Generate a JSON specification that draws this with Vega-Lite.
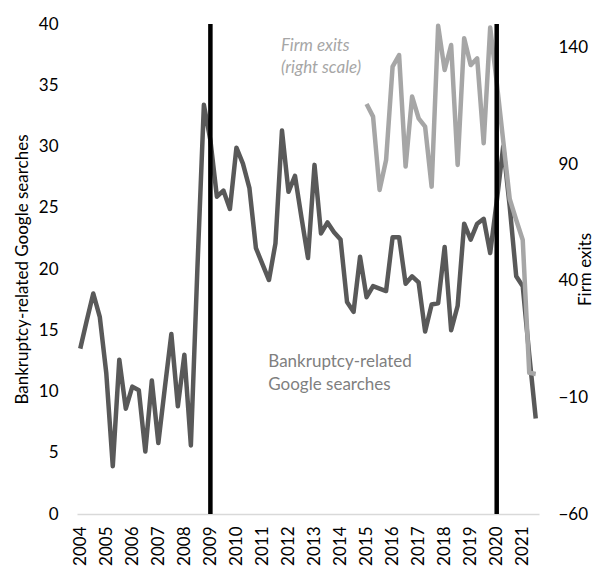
{
  "$schema": "https://vega.github.io/schema/vega-lite/v6.json",
  "width": 462,
  "height": 490,
  "autosize": {"type": "none"},
  "padding": {"left": 77, "top": 24, "right": 54, "bottom": 56},
  "background": "white",
  "config": {
    "view": {"stroke": null},
    "font": "Lato",
    "axis": {"labelFont": "Lato", "titleFont": "Lato", "labelColor": "#000000", "titleColor": "#000000", "titleFontWeight": "normal", "grid": false, "ticks": false}
  },
  "datasets": {
    "series": [
      {"t": 2004.00, "searches": 13.5, "exits": null},
      {"t": 2004.25, "searches": 15.8, "exits": null},
      {"t": 2004.50, "searches": 18.0, "exits": null},
      {"t": 2004.75, "searches": 16.1, "exits": null},
      {"t": 2005.00, "searches": 11.5, "exits": null},
      {"t": 2005.25, "searches": 3.9, "exits": null},
      {"t": 2005.50, "searches": 12.6, "exits": null},
      {"t": 2005.75, "searches": 8.6, "exits": null},
      {"t": 2006.00, "searches": 10.4, "exits": null},
      {"t": 2006.25, "searches": 10.1, "exits": null},
      {"t": 2006.50, "searches": 5.1, "exits": null},
      {"t": 2006.75, "searches": 10.9, "exits": null},
      {"t": 2007.00, "searches": 5.8, "exits": null},
      {"t": 2007.25, "searches": 10.3, "exits": null},
      {"t": 2007.50, "searches": 14.7, "exits": null},
      {"t": 2007.75, "searches": 8.8, "exits": null},
      {"t": 2008.00, "searches": 13.0, "exits": null},
      {"t": 2008.25, "searches": 5.6, "exits": null},
      {"t": 2008.50, "searches": 20.0, "exits": null},
      {"t": 2008.75, "searches": 33.4, "exits": null},
      {"t": 2009.00, "searches": 30.5, "exits": null},
      {"t": 2009.25, "searches": 25.9, "exits": null},
      {"t": 2009.50, "searches": 26.4, "exits": null},
      {"t": 2009.75, "searches": 24.9, "exits": null},
      {"t": 2010.00, "searches": 29.9, "exits": null},
      {"t": 2010.25, "searches": 28.6, "exits": null},
      {"t": 2010.50, "searches": 26.6, "exits": null},
      {"t": 2010.75, "searches": 21.7, "exits": null},
      {"t": 2011.00, "searches": 20.4, "exits": null},
      {"t": 2011.25, "searches": 19.1, "exits": null},
      {"t": 2011.50, "searches": 22.1, "exits": null},
      {"t": 2011.75, "searches": 31.3, "exits": null},
      {"t": 2012.00, "searches": 26.3, "exits": null},
      {"t": 2012.25, "searches": 27.6, "exits": null},
      {"t": 2012.50, "searches": 24.2, "exits": null},
      {"t": 2012.75, "searches": 20.9, "exits": null},
      {"t": 2013.00, "searches": 28.5, "exits": null},
      {"t": 2013.25, "searches": 22.9, "exits": null},
      {"t": 2013.50, "searches": 23.8, "exits": null},
      {"t": 2013.75, "searches": 23.0, "exits": null},
      {"t": 2014.00, "searches": 22.4, "exits": null},
      {"t": 2014.25, "searches": 17.3, "exits": null},
      {"t": 2014.50, "searches": 16.5, "exits": null},
      {"t": 2014.75, "searches": 21.0, "exits": null},
      {"t": 2015.00, "searches": 17.7, "exits": 115.7},
      {"t": 2015.25, "searches": 18.6, "exits": 110.3},
      {"t": 2015.50, "searches": 18.4, "exits": 78.9},
      {"t": 2015.75, "searches": 18.2, "exits": 91.7},
      {"t": 2016.00, "searches": 22.6, "exits": 131.7},
      {"t": 2016.25, "searches": 22.6, "exits": 136.7},
      {"t": 2016.50, "searches": 18.8, "exits": 88.9},
      {"t": 2016.75, "searches": 19.4, "exits": 118.9},
      {"t": 2017.00, "searches": 18.9, "exits": 109.6},
      {"t": 2017.25, "searches": 14.9, "exits": 106.0},
      {"t": 2017.50, "searches": 17.1, "exits": 80.3},
      {"t": 2017.75, "searches": 17.2, "exits": 149.2},
      {"t": 2018.00, "searches": 21.8, "exits": 130.3},
      {"t": 2018.25, "searches": 15.0, "exits": 141.0},
      {"t": 2018.50, "searches": 17.0, "exits": 89.6},
      {"t": 2018.75, "searches": 23.7, "exits": 143.9},
      {"t": 2019.00, "searches": 22.4, "exits": 132.4},
      {"t": 2019.25, "searches": 23.7, "exits": 135.3},
      {"t": 2019.50, "searches": 24.1, "exits": 98.9},
      {"t": 2019.75, "searches": 21.3, "exits": 148.5},
      {"t": 2020.00, "searches": 25.5, "exits": 125.0},
      {"t": 2020.25, "searches": 30.0, "exits": 100.0},
      {"t": 2020.50, "searches": 25.1, "exits": 75.0},
      {"t": 2020.75, "searches": 19.4, "exits": 66.0},
      {"t": 2021.00, "searches": 18.6, "exits": 57.4},
      {"t": 2021.25, "searches": 13.0, "exits": 0.5},
      {"t": 2021.50, "searches": 7.8, "exits": 0.0}
    ],
    "events": [{"t": 2009.0}, {"t": 2020.0}],
    "exitNotes": [
      {"t": 2011.71, "v": 38.2, "label": "Firm exits"},
      {"t": 2011.71, "v": 36.4, "label": "(right scale)"}
    ],
    "searchNotes": [
      {"t": 2011.225, "v": 12.4, "label": "Bankruptcy-related"},
      {"t": 2011.225, "v": 10.5, "label": "Google searches"}
    ]
  },
  "encoding": {
    "x": {
      "field": "t",
      "type": "quantitative",
      "scale": {"domain": [2003.875, 2021.625], "nice": false, "zero": false},
      "axis": {
        "title": null,
        "values": [2004, 2005, 2006, 2007, 2008, 2009, 2010, 2011, 2012, 2013, 2014, 2015, 2016, 2017, 2018, 2019, 2020, 2021],
        "format": "d",
        "labelAngle": 270,
        "labelAlign": "right",
        "labelBaseline": "middle",
        "labelPadding": 12,
        "labelFontSize": 17,
        "labelOverlap": false,
        "labelFlush": false,
        "domainColor": "#d9d9d9",
        "domainWidth": 1.5
      }
    }
  },
  "layer": [
    {
      "data": {"name": "series"},
      "mark": {"type": "line", "color": "#595959", "strokeWidth": 4.5, "strokeJoin": "round"},
      "encoding": {
        "y": {
          "field": "searches",
          "type": "quantitative",
          "scale": {"domain": [0, 40], "nice": false},
          "axis": {
            "title": "Bankruptcy-related Google searches",
            "values": [0, 5, 10, 15, 20, 25, 30, 35, 40],
            "domain": false,
            "labelFontSize": 17,
            "labelPadding": 19,
            "titleFontSize": 17,
            "titleAngle": 270,
            "titleX": -55,
            "titleY": 245,
            "titleAlign": "center",
            "titleBaseline": "middle"
          }
        }
      }
    },
    {
      "data": {"name": "series"},
      "mark": {"type": "line", "color": "#a6a6a6", "strokeWidth": 4.5, "strokeJoin": "round"},
      "encoding": {
        "y": {
          "field": "exits",
          "type": "quantitative",
          "scale": {"domain": [-60, 150], "nice": false, "zero": false},
          "axis": {
            "orient": "right",
            "title": "Firm exits",
            "values": [-60, -10, 40, 90, 140],
            "domain": false,
            "labelFontSize": 17,
            "labelPadding": 19,
            "titleFontSize": 17,
            "titleAngle": 270,
            "titleX": 46,
            "titleY": 245,
            "titleAlign": "center",
            "titleBaseline": "middle"
          }
        }
      }
    },
    {
      "data": {"name": "events"},
      "mark": {"type": "rule", "color": "#000000", "strokeWidth": 4.5},
      "encoding": {}
    },
    {
      "data": {"name": "exitNotes"},
      "mark": {"type": "text", "align": "left", "baseline": "middle", "fontSize": 17, "font": "Lato", "fontStyle": "italic", "color": "#a6a6a6"},
      "encoding": {
        "y": {"field": "v", "type": "quantitative", "scale": {"domain": [0, 40], "nice": false}, "axis": null},
        "text": {"field": "label"}
      }
    },
    {
      "data": {"name": "searchNotes"},
      "mark": {"type": "text", "align": "left", "baseline": "middle", "fontSize": 17, "font": "Lato", "color": "#7f7f7f"},
      "encoding": {
        "y": {"field": "v", "type": "quantitative", "scale": {"domain": [0, 40], "nice": false}, "axis": null},
        "text": {"field": "label"}
      }
    }
  ],
  "resolve": {"scale": {"y": "independent"}}
}
